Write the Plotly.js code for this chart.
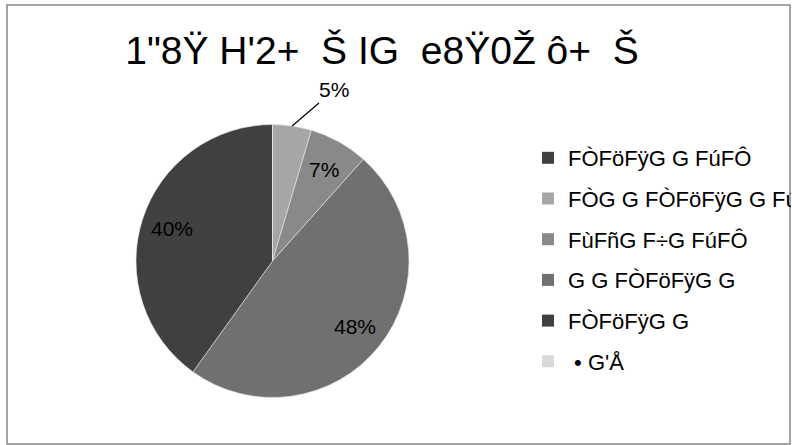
<!DOCTYPE html>
<html>
<head>
<meta charset="utf-8">
<script src="https://cdn.plot.ly/plotly-3.0.1.min.js"></script>
<style>
html,body{margin:0;padding:0;background:#fff;}
#chart{width:791px;height:445px;}
</style>
</head>
<body>
<div id="chart"></div>
<script>
// ---- data ----
var titleText = "1\"8Ÿ H'2+ \u00a0Š IG \u00a0e8Ÿ0Ž ô+ \u00a0Š";
var categories = ["FÒFöFÿG G FúFÔ", "FÒG G FÒFöFÿG G FúFÔ", "FùFñG F÷G FúFÔ", "G G FÒFöFÿG G", "FÒFöFÿG G", "\u00a0• G'Å"];
var values = [0, 4.6, 7.0, 48.3, 40.1, 0];
var colors = ["#404040", "#a6a6a6", "#898989", "#707070", "#404040", "#d9d9d9"];

// ---- layout constants ----
var W = 791, H = 445;
var cx = 272.5, cy = 261, R = 136.5;
var FONT = "Liberation Sans, Arial, sans-serif";

var total = values.reduce(function(a, b){ return a + b; }, 0);
var pct = values.map(function(v){ return Math.round(v / total * 100); });

var pie = {
  type: "pie",
  labels: categories,
  values: values,
  textinfo: "none",
  sort: false,
  direction: "clockwise",
  rotation: 0,
  marker: {colors: colors, line: {color: "#e8e8e8", width: 0.6}},
  domain: {x: [(cx - R) / W, (cx + R) / W], y: [1 - (cy + R) / H, 1 - (cy - R) / H]},
  showlegend: false,
  hoverinfo: "none"
};

// legend entries (one per category)
var legendTraces = categories.map(function(c, i){
  return {
    type: "scatter", x: [null], y: [null], mode: "markers",
    name: c, legendgroup: "g" + i, showlegend: true,
    marker: {symbol: "square", size: 12, color: colors[i]},
    hoverinfo: "none"
  };
});

// data labels: inside for larger slices, outside with leader for small ones
var annotations = [];
var cum = 0;
values.forEach(function(v, i){
  var f = v / total;
  if (v > 0) {
    var th = (cum + f / 2) * 2 * Math.PI;
    var s = Math.sin(th), c = Math.cos(th);
    if (f < 0.06) {
      var px = cx + R * s, py = cy - R * c;
      annotations.push({
        x: px / W, y: 1 - py / H, xref: "paper", yref: "paper",
        text: pct[i] + "%", showarrow: true, arrowhead: 0, arrowwidth: 1.2, arrowcolor: "#000",
        ax: 42, ay: -36, standoff: 0,
        font: {family: FONT, size: 21, color: "#000"}
      });
    } else {
      var rr = 0.77 * R;
      annotations.push({
        x: (cx + rr * s) / W, y: 1 - (cy - rr * c) / H, xref: "paper", yref: "paper",
        xanchor: "center", yanchor: "middle",
        text: pct[i] + "%", showarrow: false,
        font: {family: FONT, size: 21, color: "#000"}
      });
    }
  }
  cum += f;
});

var layout = {
  width: W, height: H,
  margin: {l: 0, r: 0, t: 0, b: 0, autoexpand: false},
  paper_bgcolor: "#fff", plot_bgcolor: "#fff",
  font: {family: FONT, color: "#000"},
  title: {text: titleText, x: 382 / W, xanchor: "center", xref: "container",
          y: 1 - 50 / H, yanchor: "middle", yref: "container",
          font: {family: FONT, size: 39, color: "#000"}},
  xaxis: {visible: false}, yaxis: {visible: false},
  showlegend: true,
  legend: {x: 528 / W, y: 1 - 137 / H, xanchor: "left", yanchor: "top",
           traceorder: "grouped", tracegroupgap: 9.1, itemclick: false,
           font: {family: FONT, size: 22, color: "#000"},
           bgcolor: "rgba(0,0,0,0)", borderwidth: 0},
  shapes: [{type: "rect", xref: "paper", yref: "paper",
            x0: 7 / W, x1: 790 / W, y0: 1 - 444 / H, y1: 1 - 5 / H,
            line: {color: "#878787", width: 1.5}, fillcolor: "rgba(0,0,0,0)", layer: "above"}],
  annotations: annotations
};

Plotly.newPlot("chart", [pie].concat(legendTraces), layout, {displayModeBar: false, staticPlot: true});
</script>
</body>
</html>
